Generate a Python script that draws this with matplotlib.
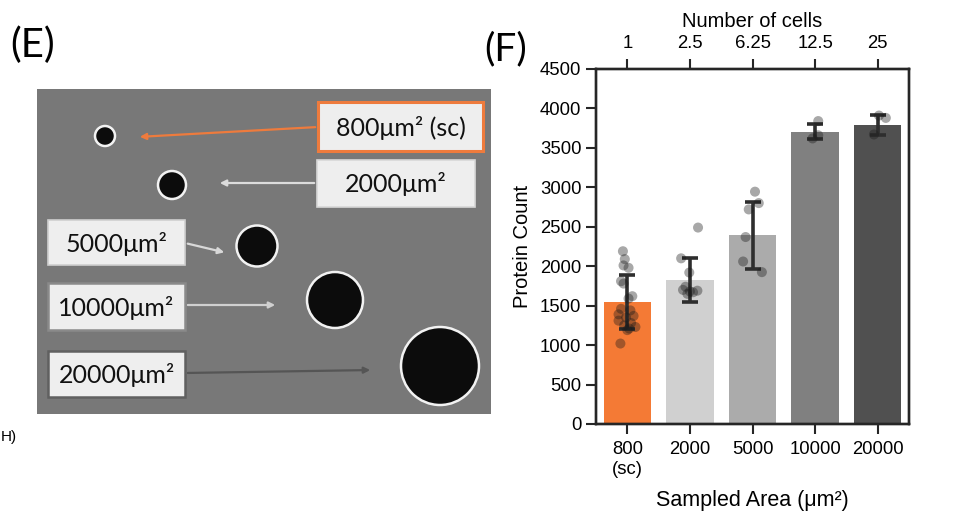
import numpy as np
import matplotlib.pyplot as plt
from matplotlib.patches import Circle, Rectangle

plt.rcParams["font.family"] = ["Liberation Sans", "DejaVu Sans"]

# ---- panel F data ----
areas = ["800\n(sc)", "2000", "5000", "10000", "20000"]
cells = ["1", "2.5", "6.25", "12.5", "25"]
mean_count = [1545, 1825, 2392, 3705, 3790]
sd_count = [340, 275, 427, 97, 125]
bar_colors = ["#f47a35", "#d0d0d0", "#ababab", "#808080", "#505050"]

pts_800 = [2190, 2090, 2010, 1980, 1810, 1780, 1620, 1590, 1460, 1440,
           1390, 1370, 1350, 1310, 1280, 1250, 1230, 1210, 1190, 1020]
pts_2000 = [2490, 2100, 1920, 1740, 1700, 1690, 1680, 1670, 1650]
pts_5000 = [2945, 2800, 2720, 2370, 2060, 1925]
pts_10000 = [3840, 3660, 3620]
pts_20000 = [3910, 3880, 3670]
points = [pts_800, pts_2000, pts_5000, pts_10000, pts_20000]

# horizontal jitter of the dots as seen in the figure
jit_800 = [-0.07, -0.04, -0.06, 0.02, -0.1, -0.06, 0.08, 0.02, -0.1, 0.05,
           -0.14, 0.1, -0.02, -0.14, 0.06, -0.05, 0.13, 0.03, 0.0, -0.11]
jit_2000 = [0.13, -0.14, -0.01, -0.07, -0.11, 0.12, 0.0, 0.05, -0.04]
jit_5000 = [0.04, 0.1, -0.06, -0.11, -0.15, 0.15]
jit_10000 = [0.05, 0.05, -0.04]
jit_20000 = [0.02, 0.13, -0.06]
jitter = [jit_800, jit_2000, jit_5000, jit_10000, jit_20000]

# ---- panel E labels ----
hole_labels = ["800μm² (sc)", "2000μm²", "5000μm²", "10000μm²", "20000μm²"]

fig = plt.figure(figsize=(9.55, 5.29), dpi=100)
W, H = 955, 529
LATO = ["Lato", "DejaVu Sans"]

# ===================== panel E (schematic of the photo) =====================
x0, y0, x1, y1 = 37, 89, 491, 414
axe = fig.add_axes([x0 / W, 1 - y1 / H, (x1 - x0) / W, (y1 - y0) / H])
axe.set_xlim(x0, x1)
axe.set_ylim(y1, y0)
axe.set_facecolor("#787878")
axe.set_xticks([]); axe.set_yticks([])
for s in axe.spines.values():
    s.set_visible(False)

holes = [(105, 136, 10), (172, 185, 14), (257, 246, 20.5), (335, 300, 28), (440, 366, 39)]
for cx, cy, r in holes:
    axe.add_patch(Circle((cx, cy), r, facecolor="#0c0c0c", edgecolor="#f2f2f2", lw=1.8))

boxes = [(318, 102, 483, 151), (317, 160, 475, 207), (48, 220, 185, 265),
         (48, 283, 185, 330), (48, 351, 185, 397)]
box_edges = ["#ee7b3d", "#d8d8d8", "#cfcfcf", "#8a8a8a", "#606060"]
box_lw = [2.2, 1.2, 1.2, 1.8, 1.8]
arrows = [((318, 127), (137, 137), "#ee7b3d"), ((317, 183), (217, 183), "#dcdcdc"),
          ((185, 243), (227, 253), "#d8d8d8"), ((185, 305), (278, 305), "#d0d0d0"),
          ((185, 373), (373, 370), "#555555")]
for (bx0, by0, bx1, by1), lab, ec, lw, (a0, a1, ac) in zip(boxes, hole_labels, box_edges, box_lw, arrows):
    axe.annotate("", xy=a1, xytext=a0,
                 arrowprops=dict(arrowstyle="-|>", color=ac, lw=1.6, mutation_scale=9))
    axe.add_patch(Rectangle((bx0, by0), bx1 - bx0, by1 - by0, facecolor="#eeeeee",
                            edgecolor=ec, lw=lw, zorder=3))
    axe.text((bx0 + bx1) / 2, (by0 + by1) / 2 + 1, lab, ha="center", va="center",
             fontsize=18, family=LATO, color="#111111", zorder=4)

fig.text(10 / W, 1 - 45 / H, "(E)", fontsize=29, family=LATO, va="center")
fig.text(484 / W, 1 - 49 / H, "(F)", fontsize=28, family=LATO, va="center")
fig.text(1 / W, 1 - 437 / H, "H)", fontsize=11, va="center", ha="left")

# ===================== panel F (bar chart) =====================
ax = fig.add_axes([596 / W, 1 - 424 / H, (909 - 596) / W, (424 - 69) / H])
x = np.arange(len(areas))
ax.bar(x, mean_count, width=0.76, color=bar_colors, zorder=1)
ax.errorbar(x, mean_count, yerr=sd_count, fmt="none", ecolor="#2e2e2e", elinewidth=2.6,
            capsize=5.5, capthick=2.6, zorder=2)
for i, (vals, jit) in enumerate(zip(points, jitter)):
    ax.scatter(i + np.array(jit), vals, s=52, color="#1a1a1a", alpha=0.38,
               edgecolors="none", zorder=3)

ax.set_xlim(-0.5, 4.5)
ax.set_ylim(0, 4500)
ax.set_yticks(range(0, 4501, 500))
ax.set_xticks(x)
ax.set_xticklabels(areas, linespacing=1.25)
ax.set_ylabel("Protein Count", fontsize=14.5, labelpad=6)
ax.set_xlabel("Sampled Area (μm²)", fontsize=15.5, labelpad=9)
ax.tick_params(direction="out", length=7, width=1.5, labelsize=13.3, color="#262626")
ax.tick_params(axis="x", pad=5)

top = ax.twiny()
top.set_xlim(ax.get_xlim())
top.set_xticks(x)
top.set_xticklabels(cells)
top.set_xlabel("Number of cells", fontsize=14.5, labelpad=6)
top.tick_params(direction="out", length=7, width=1.5, labelsize=13.3, color="#262626",
                pad=5)

for a in (ax, top):
    for s in a.spines.values():
        s.set_linewidth(1.7)
        s.set_color("#262626")

fig.savefig("out.png", dpi=100)
